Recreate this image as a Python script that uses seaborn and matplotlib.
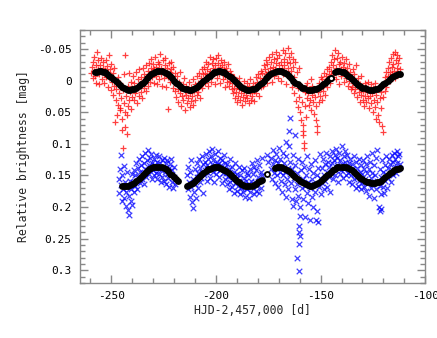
import numpy as np
import pandas as pd
import matplotlib
matplotlib.use("Agg")
import matplotlib.pyplot as plt
import seaborn as sns
from matplotlib.ticker import MultipleLocator, FuncFormatter

# --- red (+) photometry, upper band ---
red_day = [
    -259.5, -259.2, -259.0, -258.7, -258.4, -258.1, -257.8, -257.5, -257.2, -256.9, -256.6, -256.3, -256.0, -255.7, -255.4, -255.1, -254.8,
    -254.5, -254.2, -253.9, -253.6, -253.3, -253.0, -252.7, -252.4, -252.1, -251.8, -251.5, -251.2, -250.9, -250.6, -250.3, -250.0,
    -249.7, -249.4, -249.1, -248.8, -248.5, -248.2, -247.9, -247.6, -247.3, -247.0, -246.7, -246.4, -246.1, -245.8, -245.7, -245.4, -245.1, -244.9,
    -244.6, -244.4, -244.1, -243.8, -243.5, -243.3, -243.3, -243.0, -242.7, -242.5, -242.2, -242.0, -241.7, -241.4, -241.1, -240.8, -240.5, -240.2,
    -239.9, -239.6, -239.3, -239.0, -238.7, -238.4, -238.1, -237.8, -237.5, -237.2, -236.9, -236.6, -236.3, -236.0, -235.7, -235.4, -235.1,
    -234.8, -234.5, -234.2, -233.9, -233.6, -233.3, -233.0, -232.7, -232.4, -232.1, -231.8, -231.5, -231.2, -230.9, -230.6, -230.3,
    -230.0, -229.7, -229.4, -229.1, -228.8, -228.5, -228.2, -227.9, -227.6, -227.3, -227.0, -226.7, -226.4, -226.1, -225.8, -225.5, -225.2, -224.9,
    -224.6, -224.3, -224.0, -223.7, -223.4, -223.1, -222.8, -222.5, -222.2, -221.9, -221.6, -221.3, -221.0, -220.7, -220.4, -220.1, -219.8, -219.5,
    -219.2, -218.9, -218.6, -218.3, -218.0, -217.7, -217.4, -217.1, -216.8, -216.5, -216.2, -215.9, -215.6, -215.3, -215.0, -214.7, -214.4, -214.1, -213.8, -213.5, -213.2, -212.9, -212.6,
    -212.3, -212.0, -211.7, -211.4, -211.1, -210.8, -210.5, -210.2, -209.9, -209.6, -209.3, -209.0, -208.7, -208.4, -208.1, -207.8, -207.5, -207.2, -206.9, -206.6, -206.3, -206.0,
    -205.7, -205.4, -205.1, -204.8, -204.5, -204.2, -203.9, -203.6, -203.3, -203.0, -202.7, -202.4, -202.1, -201.8, -201.5, -201.2, -200.9, -200.6, -200.3, -200.0, -199.7, -199.4, -199.1,
    -198.8, -198.5, -198.2, -197.9, -197.6, -197.3, -197.0, -196.7, -196.4, -196.1, -195.8, -195.5, -195.2, -194.9, -194.6, -194.3, -194.0, -193.7, -193.4, -193.1, -192.8, -192.5,
    -192.2, -191.9, -191.6, -191.3, -191.0, -190.7, -190.4, -190.1, -189.8, -189.5, -189.2, -188.9, -188.6, -188.3, -188.0, -187.7, -187.4, -187.1, -186.8, -186.5, -186.2, -185.9, -185.6, -185.3,
    -185.0, -184.7, -184.4, -184.1, -183.8, -183.5, -183.2, -182.9, -182.6, -182.3, -182.0, -181.7, -181.4, -181.1, -180.8, -180.5, -180.2, -179.9, -179.6, -179.3, -179.0, -178.7, -178.4, -178.1,
    -177.8, -177.5, -177.2, -176.9, -176.6, -176.3, -176.0, -175.7, -175.4, -175.1, -174.8, -174.5, -174.2, -173.9, -173.6, -173.3, -173.0, -172.7, -172.4, -172.1, -171.8, -171.5, -171.2, -170.9, -170.6,
    -170.3, -170.0, -169.7, -169.4, -169.1, -168.8, -168.5, -168.2, -167.9, -167.6, -167.3, -167.0, -166.7, -166.4, -166.1, -165.8, -165.5, -165.2, -164.9, -164.6, -164.3, -164.0, -163.7, -163.4, -163.1,
    -162.8, -162.5, -162.2, -161.9, -161.6, -161.3, -161.0, -160.7, -160.4, -160.1, -159.8, -159.5, -159.2, -158.9, -158.6, -158.4, -158.2, -158.0, -157.8, -157.6, -157.4, -157.2,
    -156.9, -156.6, -156.3, -156.0, -155.7, -155.4, -155.1, -154.8, -154.5, -154.2, -153.9, -153.6, -153.3, -153.0, -152.7, -152.4, -152.1, -151.8, -151.5, -151.2,
    -150.9, -150.6, -150.3, -150.0, -149.7, -149.4, -149.1, -148.8, -148.5, -148.2, -147.9, -147.6, -147.3, -147.0, -146.7, -146.4,
    -146.1, -145.8, -145.5, -145.2, -144.9, -144.6, -144.3, -144.0, -143.7, -143.4, -143.1, -142.8, -142.5, -142.2, -141.9, -141.6, -141.3, -141.0,
    -140.7, -140.4, -140.1, -139.8, -139.5, -139.2, -138.9, -138.6, -138.3, -138.0, -137.7, -137.4, -137.1, -136.8, -136.5, -136.2, -135.9, -135.6,
    -135.3, -135.0, -134.7, -134.4, -134.1, -133.8, -133.5, -133.2, -132.9, -132.6, -132.3, -132.0, -131.7, -131.4, -131.1, -130.8, -130.5, -130.2, -129.9, -129.6, -129.3, -129.0, -128.7,
    -128.4, -128.1, -127.8, -127.5, -127.2, -126.9, -126.6, -126.3, -126.0, -125.7, -125.4, -125.1, -124.8, -124.5, -124.2, -123.9, -123.6, -123.3,
    -123.0, -122.7, -122.4, -122.1, -121.8, -121.5, -121.2, -120.9, -120.6, -120.3, -120.0, -119.7, -119.4, -119.1, -118.8, -118.5, -118.2,
    -117.9, -117.6, -117.3, -117.0, -116.7, -116.4, -116.1, -115.8, -115.5, -115.2, -114.9, -114.6, -114.3, -114.0, -113.7, -113.4, -113.1, -112.8, -112.5, -112.2,
]
red_mag = [
    -0.012, -0.022, -0.004, -0.030, -0.016, -0.038, -0.008, -0.025, 0.003, -0.045, -0.018, -0.032, -0.010, 0.006, -0.024, -0.015, -0.036,
    -0.002, -0.020, -0.029, -0.011, 0.004, -0.017, -0.033, -0.006, -0.023, 0.010, -0.013, -0.040, -0.004, -0.019, 0.015, -0.027,
    0.002, -0.012, 0.022, 0.008, -0.020, 0.065, 0.030, 0.014, 0.054, -0.005, 0.038, 0.020, 0.047, 0.004, 0.043, 0.028, 0.060, 0.078,
    0.015, 0.107, 0.035, -0.010, 0.050, 0.073, -0.040, 0.024, 0.085, 0.054, 0.008, 0.040, 0.030, -0.012, 0.018, 0.045, 0.002, 0.026,
    0.012, -0.008, 0.030, 0.004, 0.020, -0.014, 0.015, 0.035, -0.002, 0.010, 0.024, -0.018, 0.006, 0.018, -0.006, 0.028, 0.000,
    -0.020, 0.012, -0.010, 0.004, -0.025, 0.016, -0.004, -0.016, 0.008, -0.028, -0.010, 0.002, -0.020, -0.034, -0.006, -0.015,
    -0.026, 0.004, -0.018, -0.038, -0.008, -0.022, 0.006, -0.030, -0.014, -0.002, -0.026, -0.042, -0.010, -0.020, 0.008, -0.032, -0.016, -0.004,
    -0.024, -0.036, -0.012, 0.010, -0.020, 0.045, -0.006, -0.028, -0.014, 0.002, -0.018, -0.030, -0.008, 0.012, -0.022, -0.002, 0.016, -0.012,
    0.004, 0.026, -0.008, 0.014, 0.034, 0.002, 0.020, -0.014, 0.010, 0.040, 0.024, 0.006, 0.030, -0.004, 0.016, 0.046, 0.022, 0.008, 0.036, 0.014, 0.028, 0.002, 0.042,
    0.020, 0.032, 0.010, 0.025, -0.002, 0.038, 0.016, 0.006, 0.030, 0.012, -0.008, 0.022, 0.004, 0.018, -0.012, 0.008, 0.028, -0.004, 0.012, -0.018, 0.002, -0.010,
    -0.022, 0.004, -0.012, -0.030, -0.004, -0.018, 0.008, -0.026, -0.010, -0.038, -0.016, 0.002, -0.028, -0.008, -0.020, -0.034, -0.012, -0.024, 0.006, -0.036, -0.016, -0.004, -0.028,
    -0.040, -0.010, -0.022, 0.004, -0.032, -0.014, -0.024, -0.002, -0.018, -0.030, -0.008, 0.010, -0.020, -0.012, 0.002, -0.026, -0.006, 0.008, -0.016, 0.000, -0.010, 0.014,
    0.004, 0.020, -0.006, 0.012, 0.028, 0.002, 0.018, 0.034, 0.008, 0.024, -0.004, 0.014, 0.030, 0.006, 0.020, 0.038, 0.010, 0.026, 0.000, 0.016, 0.032, 0.012, 0.022, 0.004,
    0.028, 0.014, 0.036, 0.008, 0.020, -0.002, 0.030, 0.012, 0.024, 0.004, 0.016, 0.032, 0.008, -0.006, 0.020, 0.002, 0.012, -0.010, 0.006, 0.024, -0.004, 0.010, -0.016, 0.000,
    -0.012, 0.008, -0.024, -0.004, -0.018, -0.032, -0.010, 0.004, -0.026, -0.014, -0.038, -0.006, -0.020, -0.030, -0.012, 0.002, -0.042, -0.022, -0.034, -0.008, -0.018, -0.046, -0.028, -0.014, -0.036,
    -0.004, -0.024, -0.040, -0.016, -0.030, 0.000, -0.020, -0.048, -0.010, -0.034, -0.024, -0.044, -0.014, 0.006, -0.030, -0.052, -0.020, -0.038, -0.008, -0.028, -0.044, -0.016, 0.010, -0.034, -0.022,
    -0.006, 0.020, -0.030, 0.004, 0.032, -0.014, 0.042, 0.012, 0.026, -0.020, 0.050, 0.008, 0.062, 0.034, 0.070, 0.086, 0.080, 0.098, 0.106, 0.040, 0.018, 0.058,
    0.010, 0.028, 0.004, 0.020, 0.038, 0.014, 0.030, -0.002, 0.046, 0.022, 0.008, 0.034, 0.016, 0.052, 0.026, 0.062, 0.040, 0.072, 0.082, 0.018,
    0.034, 0.004, 0.024, -0.006, 0.012, 0.030, -0.002, 0.016, -0.012, 0.006, 0.022, -0.008, 0.002, -0.018, 0.010, -0.004,
    -0.022, -0.010, 0.004, -0.030, -0.016, -0.040, -0.006, -0.024, -0.034, -0.012, -0.048, -0.002, -0.020, -0.036, -0.044, -0.014, -0.026, 0.006,
    -0.030, -0.018, -0.008, -0.038, -0.022, -0.012, 0.002, -0.028, -0.016, -0.034, -0.004, -0.020, 0.008, -0.010, -0.026, 0.000, -0.014, 0.014,
    -0.006, 0.010, -0.018, 0.004, 0.020, -0.010, 0.014, -0.024, 0.002, 0.026, 0.008, -0.004, 0.018, 0.034, 0.006, 0.022, -0.008, 0.012, 0.030, 0.016, 0.040, 0.004, 0.024,
    0.010, 0.034, 0.018, 0.002, 0.028, 0.044, 0.014, 0.024, 0.006, 0.036, 0.020, 0.050, 0.012, 0.030, 0.004, 0.042, 0.022, 0.060,
    0.034, 0.014, 0.054, 0.066, 0.028, 0.008, 0.044, 0.018, 0.072, 0.081, 0.026, 0.004, 0.016, -0.006, 0.010, -0.014, 0.002,
    -0.020, -0.008, -0.030, -0.014, 0.000, -0.036, -0.022, -0.010, -0.042, -0.026, -0.016, -0.046, -0.004, -0.032, -0.020, -0.040, -0.012, -0.028, -0.036, -0.018,
]

# --- blue (x) photometry, lower band ---
blue_day = [
    -246.5, -246.2, -245.9, -245.6, -245.3, -245.0, -244.7, -244.4, -244.1, -243.8, -243.5, -243.2, -242.9, -242.6, -242.3, -242.0, -241.7, -241.4, -241.1, -240.8, -240.5, -240.2, -240.0,
    -239.7, -239.4, -239.1, -238.8, -238.5, -238.2, -237.9, -237.6, -237.3, -237.0, -236.7, -236.4, -236.1, -235.8, -235.5, -235.2,
    -234.9, -234.6, -234.3, -234.0, -233.7, -233.4, -233.1, -232.8, -232.5, -232.2, -231.9, -231.6, -231.3, -231.0, -230.7, -230.4,
    -230.1, -229.8, -229.5, -229.2, -228.9, -228.6, -228.3, -228.0, -227.7, -227.4, -227.1, -226.8, -226.5, -226.2, -225.9, -225.6, -225.3, -225.0,
    -224.7, -224.4, -224.1, -223.8, -223.5, -223.2, -222.9, -222.6, -222.3, -222.0, -221.7, -221.4, -221.1, -220.8, -220.5, -220.2, -219.9, -219.6,
    -213.8, -213.5, -213.2, -212.9, -212.6, -212.3, -212.0, -211.7, -211.4, -211.1, -210.8, -210.5, -210.2, -209.9,
    -209.6, -209.3, -209.0, -208.7, -208.4, -208.1, -207.8, -207.5, -207.2, -206.9, -206.6, -206.3, -206.0,
    -205.7, -205.4, -205.1, -204.8, -204.5, -204.2, -203.9, -203.6, -203.3, -203.0, -202.7, -202.4, -202.1, -201.8, -201.5, -201.2, -200.9, -200.6,
    -200.3, -200.0, -199.7, -199.4, -199.1, -198.8, -198.5, -198.2, -197.9, -197.6, -197.3, -197.0, -196.7, -196.4, -196.1, -195.8, -195.5,
    -195.2, -194.9, -194.6, -194.3, -194.0, -193.7, -193.4, -193.1, -192.8, -192.5, -192.2, -191.9, -191.6, -191.3, -191.0, -190.7, -190.4,
    -190.1, -189.8, -189.5, -189.2, -188.9, -188.6, -188.3, -188.0, -187.7, -187.4, -187.1, -186.8, -186.5, -186.2, -185.9, -185.6, -185.3,
    -185.0, -184.7, -184.4, -184.1, -183.8, -183.5, -183.2, -182.9, -182.6, -182.3, -182.0, -181.7, -181.4, -181.1,
    -180.8, -180.5, -180.2, -179.9, -179.6, -179.3, -179.0, -178.7, -178.4, -178.1, -177.8, -175.5, -175.2,
    -173.8, -173.5, -173.2, -172.9, -172.6, -172.3, -172.0, -171.7, -171.4, -171.1, -170.8, -170.5, -170.2, -169.9, -169.6, -169.3, -169.0,
    -168.7, -168.4, -168.1, -167.8, -167.5, -167.2, -166.9, -166.7, -166.6, -166.3, -166.0, -165.7, -165.4, -165.1, -165.0, -164.8, -164.6,
    -164.5, -164.2, -163.9, -163.6, -163.3, -163.0, -162.7, -162.4, -162.3, -162.1, -161.8, -161.5, -161.2, -160.9, -160.6,
    -160.0, -160.2, -159.8, -160.4, -161.1, -160.1, -160.3, -159.9,
    -159.4, -159.1, -158.8, -158.5, -158.2, -157.9, -157.6, -157.3, -157.0, -156.7, -156.4, -156.1, -155.8, -155.5, -155.2, -154.9,
    -154.6, -154.3, -154.0, -153.7, -153.4, -153.1, -152.8, -152.5, -152.2, -151.9, -151.6, -151.3, -151.0, -150.7, -150.4, -150.1,
    -149.8, -149.5, -149.2, -148.9, -148.6, -148.3, -148.0, -147.7, -147.4, -147.1, -146.8, -146.5, -146.2, -145.9, -145.6, -145.3,
    -145.0, -144.7, -144.4, -144.1, -143.8, -143.5, -143.2, -142.9, -142.6, -142.3, -142.0, -141.7, -141.4, -141.1, -140.8, -140.5,
    -140.2, -139.9, -139.6, -139.3, -139.0, -138.7, -138.4, -138.1, -137.8, -137.5, -137.2, -136.9, -136.6, -136.3, -136.0, -135.7,
    -135.4, -135.1, -134.8, -134.5, -134.2, -133.9, -133.6, -133.3, -133.0, -132.7, -132.4, -132.1, -131.8, -131.5, -131.2, -130.9,
    -130.6, -130.3, -130.0, -129.7, -129.4, -129.1,
    -128.8, -128.5, -128.2, -127.9, -127.6, -127.3, -127.0, -126.7, -126.4, -126.1, -125.8, -125.5, -125.2, -124.9, -124.6, -124.3, -124.0, -123.7,
    -123.4, -123.1, -122.8, -122.0, -121.4, -120.9, -121.8, -121.5, -121.2, -120.9, -120.6, -120.3, -120.0, -119.7, -119.4, -119.1, -118.8, -118.5, -118.2,
    -117.9, -117.6, -117.3, -117.0, -116.7, -116.4, -116.1, -115.8, -115.5, -115.2, -114.9, -114.6, -114.3, -114.0, -113.7, -113.4, -113.1, -112.8, -112.5, -112.2,
]
blue_mag = [
    0.155, 0.178, 0.140, 0.117, 0.165, 0.190, 0.150, 0.172, 0.135, 0.185, 0.160, 0.198, 0.176, 0.145, 0.168, 0.205, 0.182, 0.212, 0.158, 0.190, 0.172, 0.148, 0.196,
    0.160, 0.176, 0.142, 0.166, 0.150, 0.130, 0.158, 0.172, 0.138, 0.152, 0.124, 0.162, 0.144, 0.134, 0.156, 0.120,
    0.146, 0.164, 0.130, 0.140, 0.114, 0.152, 0.126, 0.142, 0.110, 0.134, 0.148, 0.122, 0.138, 0.116, 0.156, 0.130,
    0.142, 0.124, 0.150, 0.134, 0.118, 0.146, 0.128, 0.156, 0.138, 0.120, 0.148, 0.130, 0.160, 0.142, 0.126, 0.152, 0.136, 0.122,
    0.158, 0.144, 0.130, 0.164, 0.148, 0.126, 0.154, 0.138, 0.168, 0.132, 0.150, 0.124, 0.160, 0.142, 0.170, 0.152, 0.136, 0.164,
    0.150, 0.172, 0.136, 0.160, 0.184, 0.144, 0.168, 0.126, 0.192, 0.202, 0.156, 0.176, 0.140, 0.164,
    0.186, 0.130, 0.152, 0.170, 0.146, 0.124, 0.160, 0.138, 0.154, 0.120, 0.144, 0.177, 0.132,
    0.150, 0.128, 0.142, 0.116, 0.158, 0.134, 0.124, 0.146, 0.112, 0.138, 0.154, 0.120, 0.132, 0.108, 0.144, 0.126, 0.160, 0.136,
    0.116, 0.148, 0.128, 0.140, 0.112, 0.132, 0.152, 0.122, 0.142, 0.134, 0.162, 0.126, 0.146, 0.118, 0.138, 0.156, 0.130,
    0.146, 0.164, 0.132, 0.152, 0.172, 0.140, 0.160, 0.124, 0.150, 0.168, 0.136, 0.156, 0.178, 0.144, 0.162, 0.130, 0.154,
    0.174, 0.148, 0.166, 0.136, 0.158, 0.180, 0.150, 0.170, 0.142, 0.162, 0.176, 0.154, 0.138, 0.168, 0.184, 0.158, 0.146,
    0.172, 0.150, 0.164, 0.186, 0.140, 0.176, 0.158, 0.130, 0.168, 0.148, 0.180, 0.136, 0.160, 0.174,
    0.142, 0.126, 0.166, 0.152, 0.178, 0.134, 0.158, 0.144, 0.170, 0.122, 0.150, 0.117, 0.128,
    0.140, 0.122, 0.156, 0.132, 0.110, 0.146, 0.126, 0.162, 0.138, 0.116, 0.150, 0.130, 0.168, 0.106, 0.144, 0.124, 0.158,
    0.136, 0.176, 0.114, 0.150, 0.130, 0.164, 0.144, 0.097, 0.184, 0.120, 0.156, 0.138, 0.172, 0.104, 0.079, 0.148, 0.059,
    0.128, 0.162, 0.188, 0.140, 0.199, 0.118, 0.154, 0.172, 0.086, 0.134, 0.190, 0.146, 0.164, 0.124, 0.182,
    0.214, 0.230, 0.246, 0.259, 0.280, 0.301, 0.240, 0.200,
    0.142, 0.170, 0.128, 0.156, 0.188, 0.136, 0.166, 0.215, 0.150, 0.178, 0.120, 0.160, 0.194, 0.140, 0.220, 0.170,
    0.132, 0.156, 0.184, 0.146, 0.200, 0.164, 0.126, 0.176, 0.220, 0.150, 0.206, 0.138, 0.224, 0.168, 0.116, 0.154,
    0.180, 0.138, 0.162, 0.124, 0.150, 0.172, 0.132, 0.158, 0.114, 0.144, 0.168, 0.128, 0.152, 0.136, 0.176, 0.120,
    0.146, 0.130, 0.112, 0.156, 0.126, 0.140, 0.117, 0.150, 0.108, 0.134, 0.122, 0.160, 0.138, 0.114, 0.148, 0.126,
    0.142, 0.104, 0.132, 0.154, 0.120, 0.140, 0.112, 0.128, 0.150, 0.136, 0.118, 0.146, 0.130, 0.160, 0.124, 0.142,
    0.150, 0.132, 0.164, 0.140, 0.120, 0.156, 0.146, 0.170, 0.128, 0.152, 0.138, 0.166, 0.124, 0.158, 0.144, 0.172,
    0.134, 0.162, 0.148, 0.126, 0.168, 0.140,
    0.156, 0.132, 0.174, 0.146, 0.120, 0.162, 0.140, 0.182, 0.128, 0.154, 0.170, 0.114, 0.146, 0.164, 0.134, 0.186, 0.150, 0.122,
    0.172, 0.158, 0.110, 0.200, 0.207, 0.203, 0.166, 0.140, 0.180, 0.152, 0.126, 0.168, 0.144, 0.178, 0.134, 0.158, 0.120, 0.148, 0.170,
    0.138, 0.154, 0.124, 0.146, 0.132, 0.160, 0.118, 0.142, 0.128, 0.150, 0.114, 0.136, 0.124, 0.146, 0.112, 0.130, 0.120, 0.140, 0.116, 0.132,
]

# --- fitted curves (black circles), one value per day ---
fit_top_day = list(range(-258, -157)) + list(range(-156, -144)) + list(range(-143, -111))
fit_top_mag = [
    -0.013, -0.014, -0.015, -0.015, -0.014, -0.013, -0.011, -0.008, -0.005, -0.002, 0.001, 0.004, 0.007, 0.010, 0.012, 0.014, 0.015,
    0.015, 0.014, 0.013, 0.011, 0.009, 0.006, 0.003, 0.000, -0.004, -0.007, -0.010, -0.012, -0.014, -0.015, -0.015,
    -0.015, -0.014, -0.012, -0.010, -0.007, -0.004, 0.000, 0.003, 0.006, 0.009, 0.011, 0.013, 0.014, 0.015,
    0.015, 0.014, 0.012, 0.010, 0.007, 0.004, 0.001, -0.002, -0.005, -0.008, -0.011, -0.013, -0.014, -0.015,
    -0.015, -0.014, -0.013, -0.011, -0.008, -0.005, -0.002, 0.001, 0.004, 0.007, 0.010, 0.012, 0.014, 0.015,
    0.015, 0.014, 0.013, 0.011, 0.009, 0.006, 0.003, 0.000, -0.004, -0.007, -0.010, -0.012, -0.014, -0.015, -0.015,
    -0.015, -0.014, -0.012, -0.010, -0.007, -0.004, 0.000, 0.003, 0.006, 0.009, 0.011, 0.012,
    0.015, 0.015, 0.015, 0.014, 0.013, 0.011, 0.009, 0.006, 0.003, 0.000, -0.002, -0.004,
    -0.014, -0.015, -0.015, -0.014, -0.013, -0.011, -0.008, -0.005, -0.002, 0.001, 0.004, 0.007, 0.009, 0.011, 0.012, 0.014,
    0.015, 0.015, 0.015, 0.014, 0.013, 0.011, 0.009, 0.006, 0.003, 0.000, -0.003, -0.005, -0.007, -0.009, -0.010, -0.011,
]
fit_bot_day = list(range(-245, -217)) + list(range(-214, -177)) + list(range(-172, -111))
fit_bot_mag = [
    0.166, 0.166, 0.166, 0.166, 0.165, 0.164, 0.162, 0.159, 0.156, 0.153, 0.150, 0.146, 0.143, 0.140, 0.138, 0.137,
    0.136, 0.136, 0.136, 0.137, 0.138, 0.140, 0.143, 0.147, 0.150, 0.153, 0.156, 0.159,
    0.166, 0.165, 0.164, 0.162, 0.159, 0.156, 0.152, 0.149, 0.146, 0.143, 0.140, 0.139, 0.138, 0.137, 0.137, 0.137,
    0.138, 0.139, 0.141, 0.143, 0.146, 0.149, 0.152, 0.155, 0.158, 0.161, 0.163, 0.165, 0.166, 0.167, 0.167, 0.166,
    0.165, 0.163, 0.161, 0.159, 0.157,
    0.138, 0.137, 0.137, 0.137, 0.138, 0.139, 0.141, 0.143, 0.146, 0.149, 0.152, 0.155, 0.158, 0.160, 0.162, 0.164,
    0.165, 0.166, 0.166, 0.165, 0.164, 0.162, 0.159, 0.156, 0.153, 0.150, 0.147, 0.144, 0.141, 0.139, 0.137, 0.136,
    0.136, 0.136, 0.137, 0.138, 0.140, 0.142, 0.145, 0.148, 0.151, 0.154, 0.156, 0.158, 0.160, 0.161, 0.162, 0.162,
    0.162, 0.161, 0.160, 0.158, 0.155, 0.152, 0.149, 0.146, 0.144, 0.142, 0.140, 0.139, 0.138,
]
# isolated fit points drawn as open circles
fit_open_day = [-175.5, -145.0]
fit_open_mag = [0.147, -0.004]

sns.set_style("ticks")
plt.rcParams["font.family"] = ["DejaVu Sans Mono", "DejaVu Sans"]
plt.rcParams["axes.unicode_minus"] = False

fig = plt.figure(figsize=(4.37, 3.38), dpi=100)
ax = fig.add_axes([0.183, 0.163, 0.79, 0.748])

sns.scatterplot(x=red_day, y=red_mag, marker="+", color="red", s=22,
                linewidth=0.9, alpha=0.75, ax=ax, legend=False, zorder=2)
sns.scatterplot(x=blue_day, y=blue_mag, marker="x", color="blue", s=16,
                linewidth=0.9, alpha=0.75, ax=ax, legend=False, zorder=2)
for d, m in [(fit_top_day, fit_top_mag), (fit_bot_day, fit_bot_mag)]:
    sns.scatterplot(x=d, y=m, marker="o", s=13, color="black",
                    edgecolor="black", linewidth=1.3, ax=ax, legend=False, zorder=3)
sns.scatterplot(x=fit_open_day, y=fit_open_mag, marker="o", s=13, facecolor="white",
                edgecolor="black", linewidth=1.3, ax=ax, legend=False, zorder=3)

ax.set_xlim(-265, -100)
ax.set_ylim(0.32, -0.08)
ax.xaxis.set_major_locator(MultipleLocator(50))
ax.xaxis.set_minor_locator(MultipleLocator(10))
ax.yaxis.set_major_locator(MultipleLocator(0.05))
ax.yaxis.set_minor_locator(MultipleLocator(0.01))
ax.yaxis.set_major_formatter(FuncFormatter(lambda v, p: f"{v:g}" if abs(v) > 1e-9 else "0"))

ax.tick_params(which="both", direction="in", top=True, right=True,
               color="#888888", labelsize=8, labelcolor="black")
ax.tick_params(which="major", length=6, width=1, pad=6)
ax.tick_params(which="minor", length=3.5, width=1)
for sp in ax.spines.values():
    sp.set_color("#888888")
    sp.set_linewidth(1)

ax.set_xlabel("HJD-2,457,000 [d]", fontsize=8.3, labelpad=2)
ax.set_ylabel("Relative brightness [mag]", fontsize=8.3, labelpad=6)

fig.savefig("out.png", dpi=100)
